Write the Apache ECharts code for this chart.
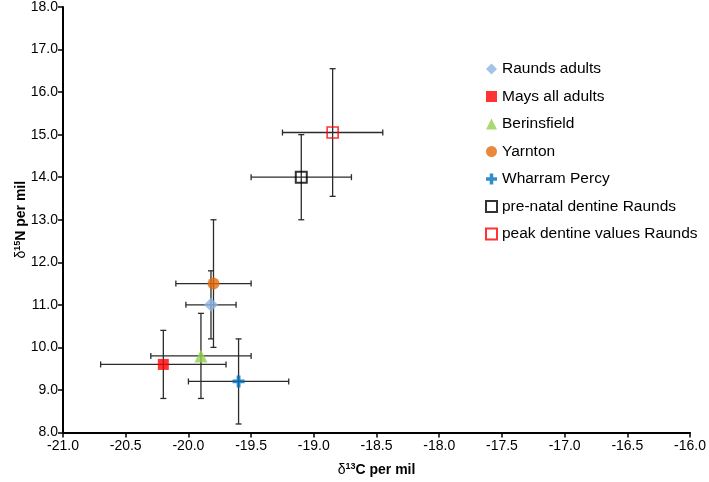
<!DOCTYPE html>
<html>
<head>
<meta charset="utf-8">
<script src="https://cdn.jsdelivr.net/npm/echarts@6/dist/echarts.min.js"></script>
<style>html,body{margin:0;padding:0;background:#fff}#c{width:709px;height:482px}</style>
</head>
<body>
<div id="c"></div>
<script>
const names = ['Raunds adults','Mays all adults','Berinsfield','Yarnton','Wharram Percy','pre-natal dentine Raunds','peak dentine values Raunds'];
const d13C = [-19.82, -20.2, -19.9, -19.8, -19.6, -19.1, -18.85];
const d15N = [11.0, 9.6, 9.8, 11.5, 9.2, 14.0, 15.05];
const errC = [0.2, 0.5, 0.4, 0.3, 0.4, 0.4, 0.4];
const errN = [0.8, 0.8, 1.0, 1.5, 1.0, 1.0, 1.5];
const xTicks = {min: -21, max: -16, interval: 0.5};
const yTicks = {min: 8, max: 18, interval: 1};

const plusPath = 'path://M3.4,0H6.6V3.4H10V6.6H6.6V10H3.4V6.6H0V3.4H3.4Z';
const styles = [
  {symbol: 'diamond', symbolSize: 14, itemStyle: {color: '#8DB4E2'}},
  {symbol: 'rect', symbolSize: 11, itemStyle: {color: '#FF0000'}},
  {symbol: 'triangle', symbolSize: 13, itemStyle: {color: '#92D050'}},
  {symbol: 'circle', symbolSize: 12, itemStyle: {color: '#E46C0A'}},
  {symbol: plusPath, symbolSize: 12, itemStyle: {color: '#0070C0'}},
  {symbol: 'rect', symbolSize: 11, itemStyle: {color: 'rgba(255,255,255,0)', borderColor: '#000000', borderWidth: 2}},
  {symbol: 'rect', symbolSize: 11, itemStyle: {color: 'rgba(255,255,255,0)', borderColor: '#FF0000', borderWidth: 1.6}}
];

const errData = names.map((n, i) => [d13C[i], d15N[i], errC[i], errN[i]]);
const cap = 3;
const errSeries = {
  type: 'custom',
  name: 'err',
  z: 1,
  silent: true,
  data: errData,
  encode: {x: 0, y: 1},
  renderItem: function (params, api) {
    const x = api.value(0), y = api.value(1), ex = api.value(2), ey = api.value(3);
    const l = api.coord([x - ex, y]), r = api.coord([x + ex, y]);
    const t = api.coord([x, y + ey]), b = api.coord([x, y - ey]);
    const st = {stroke: '#2b2b2b', lineWidth: 1.3};
    const line = (x1, y1, x2, y2) => ({type: 'line', shape: {x1, y1, x2, y2}, style: st});
    return {type: 'group', children: [
      line(l[0], l[1], r[0], r[1]),
      line(l[0], l[1] - cap, l[0], l[1] + cap),
      line(r[0], r[1] - cap, r[0], r[1] + cap),
      line(t[0], t[1], b[0], b[1]),
      line(t[0] - cap, t[1], t[0] + cap, t[1]),
      line(b[0] - cap, b[1], b[0] + cap, b[1])
    ]};
  }
};

const scatterSeries = names.map((n, i) => Object.assign({
  type: 'scatter',
  name: n,
  z: 3,
  data: [[d13C[i], d15N[i]]]
}, styles[i]));

const font = 'Liberation Sans, Arial, sans-serif';
const chart = echarts.init(document.getElementById('c'));
chart.setOption({
  animation: false,
  backgroundColor: '#fff',
  grid: {left: 63, right: 18, top: 7, bottom: 49},
  legend: {
    data: names,
    orient: 'vertical',
    left: 480,
    top: 56,
    itemGap: 11.5,
    itemWidth: 11,
    itemHeight: 11,
    textStyle: {fontFamily: font, fontSize: 15.5, color: '#000', padding: [2, 0, 0, 0]}
  },
  xAxis: {
    type: 'value',
    min: xTicks.min, max: xTicks.max, interval: xTicks.interval,
    name: '{d|δ}{s|13}{b|C per mil}',
    nameLocation: 'middle',
    nameGap: 30,
    nameTextStyle: {rich: {
      d: {fontFamily: font, fontSize: 14, color: '#000'},
      s: {fontFamily: font, fontSize: 9, fontWeight: 'bold', color: '#000', verticalAlign: 'top', padding: [0, 0, 6, 0]},
      b: {fontFamily: font, fontSize: 14, fontWeight: 'bold', color: '#000'}
    }},
    axisLine: {onZero: false, lineStyle: {color: '#000', width: 2}},
    axisTick: {show: true, length: 5, inside: false, lineStyle: {color: '#000', width: 1.5}},
    axisLabel: {fontFamily: font, fontSize: 14, color: '#000', margin: 7, formatter: v => v.toFixed(1)},
    splitLine: {show: false}
  },
  yAxis: {
    type: 'value',
    min: yTicks.min, max: yTicks.max, interval: yTicks.interval,
    name: '{d|δ}{s|15}{b|N per mil}',
    nameLocation: 'middle',
    nameGap: 42,
    nameRotate: 90,
    nameMoveOverlap: false,
    nameTextStyle: {verticalAlign: 'middle', rich: {
      d: {fontFamily: font, fontSize: 14, color: '#000'},
      s: {fontFamily: font, fontSize: 9, fontWeight: 'bold', color: '#000', verticalAlign: 'top', padding: [0, 0, 6, 0]},
      b: {fontFamily: font, fontSize: 14, fontWeight: 'bold', color: '#000'}
    }},
    axisLine: {onZero: false, lineStyle: {color: '#000', width: 2}},
    axisTick: {show: true, length: 5, inside: false, lineStyle: {color: '#000', width: 1.5}},
    axisLabel: {fontFamily: font, fontSize: 14, color: '#000', margin: 5, formatter: v => v.toFixed(1)},
    splitLine: {show: false}
  },
  series: [errSeries].concat(scatterSeries)
});
</script>
</body>
</html>
